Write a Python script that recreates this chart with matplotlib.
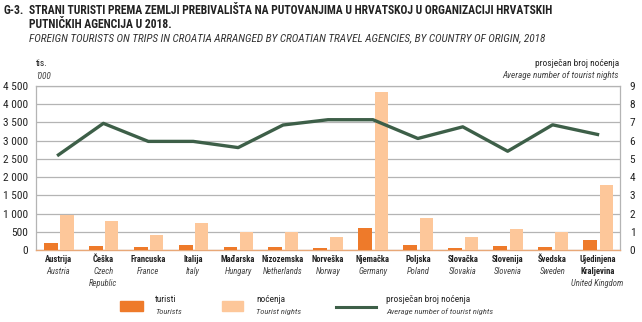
import matplotlib
matplotlib.use("Agg")
import matplotlib.pyplot as plt
import numpy as np
from matplotlib import font_manager as fm
from matplotlib.font_manager import FontProperties
from matplotlib.patches import Rectangle
from matplotlib.lines import Line2D

# ---- font selection: prefer a condensed sans family ----
cands = []
for f in fm.fontManager.ttflist:
    st = str(f.stretch).lower()
    nm = f.name.lower()
    fn = f.fname.lower()
    if ('narrow' in nm or 'condensed' in nm or 'condensed' in st or 'condensed' in fn or 'narrow' in fn) \
            and 'cjk' not in nm and 'mono' not in nm and 'serif' not in nm.replace('sans', ''):
        cands.append(f)

PREF = ['roboto condensed', 'robotocondensed', 'liberation sans narrow', 'liberationsansnarrow',
        'open sans condensed', 'opensans_condensed', 'opensanscondensed', 'noto sans condensed',
        'notosans-condensed', 'dejavu']


def rank(f):
    key = (f.name + ' ' + f.fname).lower().replace('_', ' ')
    for i, p in enumerate(PREF):
        if p in key or p.replace(' ', '') in key.replace(' ', ''):
            return i
    return len(PREF)


cands.sort(key=rank)


def pick(bold, italic):
    for f in cands:
        low = f.fname.lower()
        if any(k in low for k in ('extra', 'semi', 'light', 'thin', 'black', 'medium')):
            continue
        w = f.weight if isinstance(f.weight, int) else (700 if 'bold' in str(f.weight) else 400)
        if (w >= 600) == bold and (f.style in ('italic', 'oblique')) == italic:
            return f
    return None


def FP(size, bold=False, italic=False):
    f = pick(bold, italic)
    if f is not None:
        return FontProperties(fname=f.fname, size=size)
    return FontProperties(family='DejaVu Sans', size=size,
                          weight='bold' if bold else 'normal', style='italic' if italic else 'normal')


countries_hr = ["Austrija", "Češka", "Francuska", "Italija", "Mađarska", "Nizozemska", "Norveška",
                "Njemačka", "Poljska", "Slovačka", "Slovenija", "Švedska", "Ujedinjena\nKraljevina"]
countries_en = ["Austria", "Czech\nRepublic", "France", "Italy", "Hungary", "Netherlands", "Norway",
                "Germany", "Poland", "Slovakia", "Slovenia", "Sweden", "United Kingdom"]
tourists = [183, 120, 73, 128, 92, 83, 46, 615, 147, 55, 110, 83, 284]
nights = [963, 800, 413, 734, 495, 505, 358, 4340, 880, 367, 587, 505, 1789]
avg_nights = [5.22, 6.95, 5.96, 5.96, 5.62, 6.86, 7.15, 7.15, 6.12, 6.76, 5.42, 6.87, 6.34]
left_ticks = [0, 500, 1000, 1500, 2000, 2500, 3000, 3500, 4000, 4500]
left_labels = ["0", "500", "1 000", "1 500", "2 000", "2 500", "3 000", "3 500", "4 000", "4 500"]
right_ticks = list(range(10))

C_TOUR = "#EE7A2A"
C_NIGHT = "#FDC79A"
C_LINE = "#3D5F48"
GRID = "#B4B4B4"
DARK = "#222222"
GREY = "#444444"

W, H = 642, 322
fig = plt.figure(figsize=(W / 100, H / 100), dpi=100)
renderer = fig.canvas.get_renderer()


def fit_size(s, target_px, bold=False, italic=False, ref=10.0):
    t = fig.text(0, 0, s, fontproperties=FP(ref, bold, italic))
    w = t.get_window_extent(renderer).width
    t.remove()
    return ref * target_px / w


def put(xp, yp, s, size, bold=False, italic=False, ha='left', color=DARK):
    fig.text(xp / W, 1 - yp / H, s, ha=ha, va='center', fontproperties=FP(size, bold, italic), color=color)


sz_title = fit_size("STRANI TURISTI PREMA ZEMLJI PREBIVALIŠTA NA PUTOVANJIMA U HRVATSKOJ U ORGANIZACIJI HRVATSKIH",
                    524, bold=True)
sz_sub = fit_size("FOREIGN TOURISTS ON TRIPS IN CROATIA ARRANGED BY CROATIAN TRAVEL AGENCIES, BY COUNTRY OF ORIGIN, 2018",
                  518, italic=True)
sz_tick = fit_size("4 500", 25)
sz_cb = fit_size("Nizozemska", 42, bold=True)
sz_ci = fit_size("Netherlands", 40, italic=True)
sz_lr = fit_size("noćenja", 29)
sz_hi = fit_size("Average number of tourist nights", 116, italic=True)
sz_li = fit_size("Average number of tourist nights", 106, italic=True)

ax = fig.add_axes([36 / W, 1 - 250 / H, (620 - 36) / W, (250 - 86) / H])
x = np.arange(len(countries_hr))
ax.bar(x - 0.17, tourists, width=0.31, color=C_TOUR, zorder=3)
ax.bar(x + 0.19, nights, width=0.29, color=C_NIGHT, zorder=3)
ax.set_xlim(-0.5, len(x) - 0.5)
ax.set_ylim(0, 4500)
ax.set_yticks(left_ticks)
ax.set_yticklabels(left_labels)
ax.yaxis.grid(True, color=GRID, lw=0.9, zorder=0)
ax.set_axisbelow(True)
ax.set_xticks([])
ax.tick_params(axis='y', length=0, pad=6)
for s in ['left', 'right', 'top']:
    ax.spines[s].set_color(GRID)
    ax.spines[s].set_linewidth(0.9)
ax.spines['bottom'].set_color("#E8A878")
ax.spines['bottom'].set_linewidth(1.0)

ax2 = ax.twinx()
ax2.plot(x, avg_nights, color=C_LINE, lw=2.4, zorder=4)
ax2.set_ylim(0, 9)
ax2.set_yticks(right_ticks)
ax2.tick_params(axis='y', length=0, pad=7)
for s in ax2.spines.values():
    s.set_visible(False)
tickfp = FP(sz_tick)
for lab in ax.get_yticklabels() + ax2.get_yticklabels():
    lab.set_fontproperties(tickfp)
    lab.set_color(DARK)

for i, (h, e) in enumerate(zip(countries_hr, countries_en)):
    xd = ax.transData.transform((i, 0))[0]
    yy = 260
    for line in h.split("\n"):
        put(xd, yy, line, sz_cb, bold=True, ha='center')
        yy += 11.5
    for line in e.split("\n"):
        put(xd, yy, line, sz_ci, italic=True, ha='center', color=GREY)
        yy += 11.5

# titles
put(4, 10.5, "G-3.", sz_title, bold=True)
put(29, 10.5, "STRANI TURISTI PREMA ZEMLJI PREBIVALIŠTA NA PUTOVANJIMA U HRVATSKOJ U ORGANIZACIJI HRVATSKIH",
    sz_title, bold=True)
put(29, 24.5, "PUTNIČKIH AGENCIJA U 2018.", sz_title, bold=True)
put(29, 38.5, "FOREIGN TOURISTS ON TRIPS IN CROATIA ARRANGED BY CROATIAN TRAVEL AGENCIES, BY COUNTRY OF ORIGIN, 2018",
    sz_sub, italic=True, color='#333333')

put(36, 64, "tis.", sz_lr)
put(36, 76.5, "'000", sz_hi, italic=True, color=GREY)
put(619, 63, "prosječan broj noćenja", sz_lr, ha='right')
put(619, 75, "Average number of tourist nights", sz_hi, italic=True, ha='right', color=GREY)

# legend
fig.patches.append(Rectangle((120 / W, 1 - 311 / H), 23 / W, 10 / H, transform=fig.transFigure, color=C_TOUR))
fig.patches.append(Rectangle((222 / W, 1 - 311 / H), 21 / W, 10 / H, transform=fig.transFigure, color=C_NIGHT))
fig.lines.append(Line2D([336 / W, 376 / W], [1 - 307 / H, 1 - 307 / H], transform=fig.transFigure,
                        color=C_LINE, lw=2.2))
for xp, t1, t2 in [(155, "turisti", "Tourists"), (256, "noćenja", "Tourist nights"),
                   (386, "prosječan broj noćenja", "Average number of tourist nights")]:
    put(xp, 300, t1, sz_lr)
    put(xp, 312, t2, sz_li, italic=True, color=GREY)

fig.savefig("out.png", dpi=100)
